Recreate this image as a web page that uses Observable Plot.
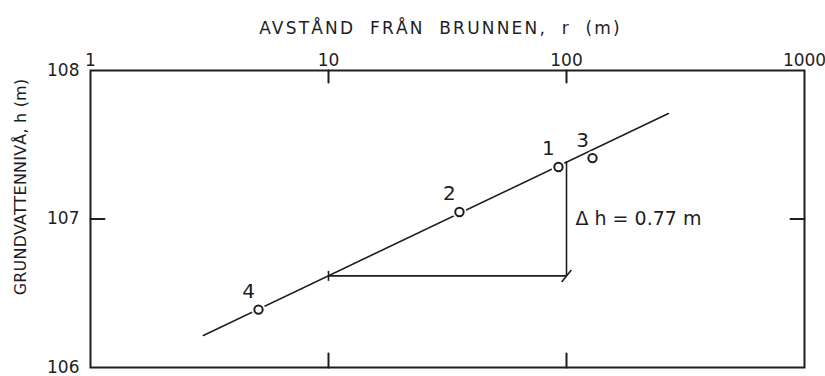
<!DOCTYPE html>
<html>
<head>
<meta charset="utf-8">
<script src="https://cdn.jsdelivr.net/npm/d3@7"></script>
<script src="https://cdn.jsdelivr.net/npm/@observablehq/plot@0.6"></script>
<style>
  html, body { margin: 0; padding: 0; background: #fff; }
  .xtitle text { letter-spacing: 2.2px; word-spacing: 7px; }
  .ytitle text { letter-spacing: 0.2px; }
</style>
</head>
<body>
<div id="chart"></div>
<script>
// ---- data ----
const xTitle = "AVSTÅND FRÅN BRUNNEN, r (m)";
const yTitle = "GRUNDVATTENNIVÅ, h (m)";
const xTicks = [1, 10, 100, 1000];
const xInnerTicks = [10, 100];
const yTicks = [106, 107, 108];
const yInnerTicks = [107];
const xDomain = [1, 1000];
const yDomain = [106, 108];

const wellIds = ["1", "2", "3", "4"];
const wellR = [92.5, 35.5, 128.6, 5.08];
const wellH = [107.35, 107.047, 107.41, 106.39];

const fitR = [2.98, 268];
const fitH = [106.216, 107.71];

const deltaR = [10, 100];           // one log cycle
const deltaBaseH = 106.617;         // fitted level at r = 10
const deltaTopH = 107.387;          // fitted level at r = 100
const deltaLabel = "Δ h = 0.77 m";

// ---- build tables ----
const wells = wellIds.map((id, i) => ({id, r: wellR[i], h: wellH[i]}));
const fit = fitR.map((r, i) => ({r, h: fitH[i]}));
const ink = "#1e1e1e";

const stick = {draw(ctx, l) { ctx.moveTo(0, 0); ctx.lineTo(0, -l); }};
const vtick = {draw(ctx, size) { const r = Math.sqrt(size / Math.PI); ctx.moveTo(0, -r); ctx.lineTo(0, r); }};
const slash = {draw(ctx, size) { const r = Math.sqrt(size / Math.PI); ctx.moveTo(-r * 0.8, r); ctx.lineTo(r * 0.8, -r); }};

const plot = Plot.plot({
  width: 825,
  height: 376,
  marginTop: 70,
  marginBottom: 9,
  marginLeft: 90,
  marginRight: 21,
  style: {fontFamily: "DejaVu Sans", fontSize: "16px", color: ink, background: "#fff"},
  x: {type: "log", domain: xDomain},
  y: {domain: yDomain},
  marks: [
    Plot.frame({stroke: ink, strokeWidth: 2}),
    Plot.axisX({anchor: "top", ticks: xTicks, tickFormat: d => String(d), tickSize: 0, tickPadding: 5, label: null, fontSize: 17}),
    Plot.axisY({anchor: "left", ticks: yTicks, tickFormat: d => String(d), tickSize: 0, tickPadding: 11, label: null, fontSize: 17}),
    Plot.vector(xInnerTicks, {x: d => d, frameAnchor: "top", anchor: "start", rotate: 180, length: 12, shape: stick, stroke: ink, strokeWidth: 2}),
    Plot.vector(xInnerTicks, {x: d => d, frameAnchor: "bottom", anchor: "start", rotate: 0, length: 14, shape: stick, stroke: ink, strokeWidth: 2}),
    Plot.vector(yInnerTicks, {y: d => d, frameAnchor: "left", anchor: "start", rotate: 90, length: 14, shape: stick, stroke: ink, strokeWidth: 2}),
    Plot.vector(yInnerTicks, {y: d => d, frameAnchor: "right", anchor: "start", rotate: -90, length: 14, shape: stick, stroke: ink, strokeWidth: 2}),
    Plot.text([xTitle], {frameAnchor: "top", textAnchor: "middle", lineAnchor: "middle", dy: -42, dx: -7, fontSize: 17, className: "xtitle"}),
    Plot.text([yTitle], {frameAnchor: "left", textAnchor: "middle", lineAnchor: "middle", dx: -70, dy: -32, rotate: -90, fontSize: 16, className: "ytitle"}),
    // construction
    Plot.ruleY([deltaBaseH], {x1: deltaR[0], x2: deltaR[1], stroke: ink, strokeWidth: 1.6}),
    Plot.ruleX([deltaR[1]], {y1: deltaBaseH, y2: deltaTopH, stroke: ink, strokeWidth: 1.6}),
    Plot.dot([0], {x: () => deltaR[0], y: () => deltaBaseH, symbol: vtick, r: 5, stroke: ink, strokeWidth: 1.6}),
    Plot.dot([0], {x: () => deltaR[1], y: () => deltaBaseH, symbol: slash, r: 6, stroke: ink, strokeWidth: 1.6}),
    Plot.text([deltaLabel], {x: () => deltaR[1], y: () => (deltaBaseH + deltaTopH) / 2, textAnchor: "start", dx: 9, fontSize: 19}),
    // fitted line
    Plot.line(fit, {x: "r", y: "h", stroke: ink, strokeWidth: 1.6}),
    // observation wells
    Plot.dot(wells, {x: "r", y: "h", r: 7, fill: "#fff", stroke: "none"}),
    Plot.dot(wells, {x: "r", y: "h", r: 4.2, fill: "#fff", stroke: ink, strokeWidth: 2}),
    Plot.text(wells, {x: "r", y: "h", text: "id", dx: -10, dy: -18, fontSize: 20})
  ]
});
document.getElementById("chart").append(plot);
</script>
</body>
</html>
